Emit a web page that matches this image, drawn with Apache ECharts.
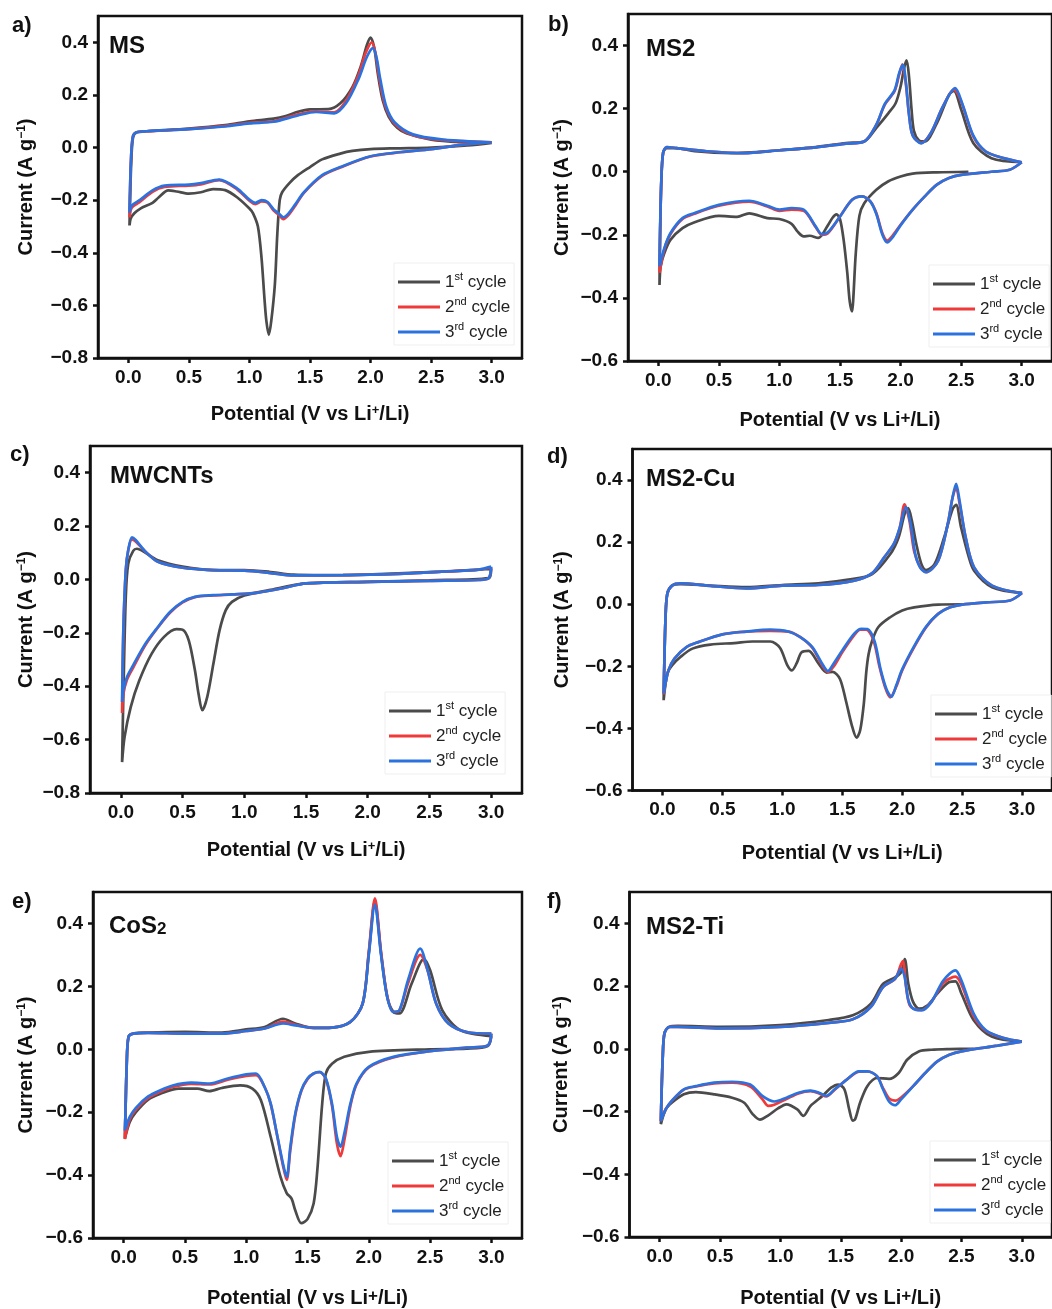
<!DOCTYPE html>
<html>
<head>
<meta charset="utf-8">
<script src="https://cdn.jsdelivr.net/npm/echarts@6/dist/echarts.min.js"></script>
<style>
  html, body { margin: 0; padding: 0; background: #ffffff; }
  #chart { width: 1052px; height: 1309px; }
</style>
</head>
<body>
<div id="chart"></div>
<script>
// Cyclic voltammograms, [potential (V vs Li+/Li), current (A g^-1)] in scan order:
// cathodic sweep down to 0.01 V, then anodic sweep back up to 3.0 V.

// ---- a) MS ----
const MS_1 = [[3.0,0.018],[2.8,0.008],[2.5,0.0],[2.2,-0.003],[2.0,-0.006],[1.85,-0.013],[1.75,-0.023],[1.6,-0.045],[1.5,-0.074],[1.4,-0.105],[1.33,-0.135],[1.27,-0.17],[1.25,-0.2],[1.23,-0.33],[1.21,-0.52],[1.18,-0.66],[1.16,-0.712],[1.14,-0.66],[1.125,-0.58],[1.1,-0.42],[1.07,-0.3],[1.03,-0.25],[1.0,-0.232],[0.9,-0.19],[0.8,-0.162],[0.7,-0.158],[0.6,-0.17],[0.5,-0.175],[0.4,-0.167],[0.33,-0.163],[0.25,-0.19],[0.2,-0.21],[0.1,-0.232],[0.05,-0.25],[0.02,-0.27],[0.01,-0.296],
  [0.015,-0.2],[0.025,-0.05],[0.04,0.04],[0.07,0.058],[0.15,0.062],[0.5,0.072],[0.8,0.085],[1.0,0.1],[1.2,0.11],[1.3,0.12],[1.4,0.136],[1.5,0.145],[1.65,0.146],[1.75,0.168],[1.85,0.23],[1.92,0.31],[1.97,0.39],[2.0,0.418],[2.03,0.38],[2.06,0.28],[2.1,0.18],[2.15,0.117],[2.22,0.075],[2.3,0.053],[2.5,0.03],[2.75,0.02],[2.95,0.018],[3.0,0.018]];
const MS_2 = [[3.0,0.02],[2.75,0.01],[2.5,-0.006],[2.25,-0.018],[2.0,-0.034],[1.75,-0.076],[1.6,-0.108],[1.45,-0.172],[1.38,-0.22],[1.32,-0.258],[1.28,-0.272],[1.24,-0.255],[1.2,-0.24],[1.15,-0.21],[1.1,-0.205],[1.05,-0.215],[1.0,-0.202],[0.9,-0.16],[0.75,-0.124],[0.6,-0.14],[0.5,-0.145],[0.3,-0.15],[0.2,-0.168],[0.1,-0.205],[0.03,-0.228],[0.01,-0.265],
  [0.015,-0.15],[0.025,-0.02],[0.04,0.045],[0.07,0.058],[0.15,0.062],[0.5,0.07],[0.8,0.082],[1.0,0.094],[1.2,0.1],[1.4,0.126],[1.55,0.138],[1.7,0.134],[1.8,0.18],[1.9,0.275],[1.96,0.36],[2.01,0.4],[2.04,0.36],[2.07,0.27],[2.12,0.16],[2.2,0.09],[2.35,0.047],[2.6,0.028],[2.9,0.022],[3.0,0.02]];
const MS_3 = [[3.0,0.02],[2.75,0.01],[2.5,-0.006],[2.25,-0.017],[2.0,-0.033],[1.75,-0.074],[1.6,-0.105],[1.45,-0.17],[1.38,-0.215],[1.32,-0.252],[1.28,-0.265],[1.24,-0.25],[1.2,-0.235],[1.15,-0.207],[1.1,-0.2],[1.05,-0.21],[1.0,-0.198],[0.9,-0.156],[0.75,-0.122],[0.6,-0.135],[0.5,-0.141],[0.3,-0.145],[0.2,-0.163],[0.1,-0.198],[0.03,-0.22],[0.01,-0.248],
  [0.015,-0.15],[0.025,-0.02],[0.04,0.045],[0.07,0.058],[0.15,0.062],[0.5,0.07],[0.8,0.08],[1.0,0.092],[1.2,0.098],[1.4,0.122],[1.55,0.135],[1.7,0.13],[1.8,0.17],[1.9,0.26],[1.97,0.345],[2.02,0.378],[2.05,0.34],[2.08,0.26],[2.13,0.155],[2.2,0.095],[2.35,0.05],[2.6,0.03],[2.9,0.022],[3.0,0.02]];

// ---- b) MS2 ----
const MS2_1 = [[2.56,0.0],[2.3,-0.002],[2.1,-0.006],[2.0,-0.015],[1.9,-0.03],[1.8,-0.057],[1.7,-0.1],[1.66,-0.14],[1.63,-0.26],[1.61,-0.4],[1.6,-0.443],[1.58,-0.41],[1.56,-0.32],[1.53,-0.216],[1.5,-0.15],[1.47,-0.135],[1.44,-0.145],[1.4,-0.17],[1.32,-0.21],[1.25,-0.203],[1.2,-0.205],[1.15,-0.19],[1.1,-0.165],[1.0,-0.15],[0.9,-0.147],[0.75,-0.132],[0.65,-0.143],[0.5,-0.14],[0.3,-0.16],[0.2,-0.179],[0.1,-0.216],[0.05,-0.258],[0.02,-0.3],[0.01,-0.359],
  [0.015,-0.2],[0.025,-0.03],[0.04,0.06],[0.07,0.075],[0.15,0.075],[0.3,0.065],[0.6,0.059],[1.0,0.068],[1.3,0.078],[1.55,0.091],[1.7,0.096],[1.8,0.139],[1.9,0.186],[1.96,0.218],[2.0,0.27],[2.03,0.33],[2.05,0.353],[2.07,0.3],[2.09,0.2],[2.11,0.13],[2.15,0.1],[2.2,0.096],[2.3,0.154],[2.4,0.244],[2.44,0.256],[2.5,0.197],[2.6,0.091],[2.75,0.043],[3.0,0.03]];
const MS2_2 = [[3.0,0.03],[2.9,0.006],[2.75,0.0],[2.5,-0.01],[2.4,-0.02],[2.3,-0.041],[2.2,-0.078],[2.1,-0.12],[2.0,-0.168],[1.93,-0.205],[1.89,-0.218],[1.85,-0.195],[1.8,-0.131],[1.75,-0.094],[1.68,-0.078],[1.6,-0.089],[1.5,-0.142],[1.4,-0.195],[1.35,-0.2],[1.3,-0.176],[1.2,-0.124],[1.1,-0.12],[1.0,-0.124],[0.9,-0.11],[0.75,-0.095],[0.5,-0.108],[0.3,-0.133],[0.2,-0.15],[0.1,-0.198],[0.05,-0.245],[0.01,-0.32],
  [0.015,-0.2],[0.025,-0.03],[0.04,0.06],[0.07,0.078],[0.15,0.075],[0.4,0.065],[0.7,0.059],[1.0,0.068],[1.3,0.077],[1.55,0.089],[1.7,0.096],[1.8,0.149],[1.87,0.213],[1.95,0.255],[1.99,0.31],[2.015,0.34],[2.04,0.29],[2.07,0.18],[2.1,0.115],[2.17,0.091],[2.25,0.123],[2.35,0.207],[2.44,0.26],[2.5,0.223],[2.6,0.112],[2.7,0.065],[2.85,0.043],[3.0,0.03]];
const MS2_3 = [[3.0,0.03],[2.9,0.006],[2.75,0.0],[2.5,-0.01],[2.4,-0.02],[2.3,-0.041],[2.2,-0.078],[2.1,-0.12],[2.0,-0.17],[1.93,-0.21],[1.89,-0.224],[1.85,-0.2],[1.8,-0.134],[1.75,-0.094],[1.68,-0.078],[1.6,-0.089],[1.5,-0.142],[1.4,-0.192],[1.35,-0.198],[1.3,-0.174],[1.2,-0.12],[1.1,-0.115],[1.0,-0.12],[0.9,-0.108],[0.75,-0.092],[0.5,-0.105],[0.3,-0.131],[0.2,-0.147],[0.1,-0.195],[0.05,-0.242],[0.01,-0.3],
  [0.015,-0.18],[0.025,-0.03],[0.04,0.06],[0.07,0.078],[0.15,0.075],[0.4,0.065],[0.7,0.059],[1.0,0.068],[1.3,0.077],[1.55,0.089],[1.7,0.096],[1.8,0.149],[1.87,0.215],[1.95,0.258],[1.99,0.315],[2.02,0.338],[2.045,0.28],[2.07,0.18],[2.1,0.115],[2.17,0.09],[2.25,0.123],[2.35,0.207],[2.45,0.265],[2.51,0.215],[2.6,0.115],[2.7,0.065],[2.85,0.043],[3.0,0.03]];

// ---- c) MWCNTs ----
const MWCNT_1 = [[3.0,0.04],[2.98,0.005],[2.5,-0.003],[2.0,-0.009],[1.5,-0.015],[1.2,-0.04],[1.0,-0.06],[0.9,-0.084],[0.85,-0.115],[0.8,-0.19],[0.75,-0.315],[0.7,-0.44],[0.66,-0.49],[0.63,-0.43],[0.6,-0.34],[0.55,-0.228],[0.5,-0.188],[0.45,-0.186],[0.35,-0.215],[0.25,-0.278],[0.15,-0.378],[0.08,-0.478],[0.03,-0.59],[0.01,-0.684],
  [0.02,-0.44],[0.04,-0.065],[0.06,0.06],[0.1,0.107],[0.13,0.115],[0.2,0.1],[0.3,0.072],[0.5,0.048],[0.75,0.035],[1.0,0.035],[1.2,0.029],[1.4,0.018],[1.8,0.016],[2.2,0.022],[2.6,0.029],[2.9,0.037],[3.0,0.04]];
const MWCNT_2 = [[3.0,0.045],[2.98,0.005],[2.9,-0.002],[2.5,-0.005],[2.0,-0.009],[1.5,-0.015],[1.3,-0.034],[1.1,-0.05],[0.9,-0.056],[0.75,-0.06],[0.6,-0.066],[0.5,-0.086],[0.4,-0.124],[0.3,-0.18],[0.2,-0.245],[0.1,-0.33],[0.05,-0.375],[0.02,-0.43],[0.01,-0.5],
  [0.02,-0.2],[0.04,0.035],[0.06,0.11],[0.09,0.15],[0.12,0.142],[0.2,0.104],[0.3,0.066],[0.5,0.044],[0.75,0.035],[1.0,0.033],[1.2,0.025],[1.4,0.015],[1.8,0.016],[2.2,0.02],[2.6,0.029],[2.9,0.037],[3.0,0.045]];
const MWCNT_3 = [[3.0,0.048],[2.98,0.005],[2.9,-0.002],[2.5,-0.005],[2.0,-0.009],[1.5,-0.015],[1.3,-0.034],[1.1,-0.05],[0.9,-0.056],[0.75,-0.059],[0.6,-0.065],[0.5,-0.084],[0.4,-0.121],[0.3,-0.178],[0.2,-0.24],[0.1,-0.321],[0.05,-0.365],[0.02,-0.415],[0.01,-0.459],
  [0.02,-0.19],[0.04,0.035],[0.06,0.11],[0.09,0.158],[0.12,0.148],[0.2,0.104],[0.3,0.066],[0.5,0.044],[0.75,0.035],[1.0,0.033],[1.2,0.025],[1.4,0.015],[1.8,0.016],[2.2,0.02],[2.6,0.029],[2.9,0.037],[3.0,0.048]];

// ---- d) MS2-Cu ----
const CU_1 = [[2.5,0.0],[2.3,-0.001],[2.1,-0.01],[2.0,-0.02],[1.9,-0.042],[1.8,-0.074],[1.75,-0.117],[1.72,-0.16],[1.7,-0.22],[1.68,-0.32],[1.65,-0.405],[1.62,-0.43],[1.58,-0.39],[1.53,-0.31],[1.48,-0.24],[1.42,-0.218],[1.37,-0.22],[1.3,-0.19],[1.22,-0.15],[1.16,-0.155],[1.12,-0.19],[1.08,-0.213],[1.04,-0.195],[0.98,-0.14],[0.9,-0.12],[0.75,-0.12],[0.6,-0.125],[0.4,-0.13],[0.25,-0.143],[0.15,-0.17],[0.08,-0.197],[0.04,-0.224],[0.01,-0.309],
  [0.015,-0.2],[0.025,-0.05],[0.04,0.033],[0.08,0.06],[0.15,0.065],[0.4,0.06],[0.7,0.055],[1.0,0.062],[1.3,0.067],[1.55,0.079],[1.75,0.097],[1.9,0.161],[1.97,0.215],[2.02,0.29],[2.05,0.31],[2.08,0.27],[2.12,0.19],[2.16,0.13],[2.2,0.11],[2.27,0.129],[2.35,0.215],[2.42,0.306],[2.45,0.32],[2.49,0.25],[2.55,0.16],[2.6,0.108],[2.75,0.055],[3.0,0.036]];
const CU_2 = [[3.0,0.036],[2.9,0.012],[2.7,0.006],[2.5,-0.001],[2.4,-0.01],[2.3,-0.031],[2.2,-0.074],[2.1,-0.138],[2.0,-0.213],[1.95,-0.266],[1.9,-0.3],[1.86,-0.27],[1.81,-0.2],[1.76,-0.115],[1.7,-0.082],[1.65,-0.082],[1.6,-0.1],[1.5,-0.155],[1.43,-0.2],[1.38,-0.218],[1.33,-0.195],[1.25,-0.14],[1.15,-0.106],[1.05,-0.088],[0.9,-0.086],[0.7,-0.088],[0.5,-0.097],[0.3,-0.122],[0.2,-0.138],[0.1,-0.175],[0.05,-0.213],[0.01,-0.29],
  [0.015,-0.2],[0.025,-0.05],[0.04,0.033],[0.08,0.06],[0.15,0.067],[0.4,0.059],[0.7,0.051],[1.0,0.06],[1.3,0.062],[1.6,0.076],[1.75,0.1],[1.85,0.151],[1.93,0.194],[1.98,0.247],[2.02,0.322],[2.06,0.27],[2.1,0.17],[2.15,0.12],[2.2,0.103],[2.3,0.14],[2.38,0.258],[2.42,0.343],[2.45,0.375],[2.48,0.322],[2.53,0.215],[2.6,0.119],[2.75,0.06],[3.0,0.036]];
const CU_3 = [[3.0,0.036],[2.9,0.012],[2.7,0.006],[2.5,-0.001],[2.4,-0.01],[2.3,-0.031],[2.2,-0.072],[2.1,-0.135],[2.0,-0.21],[1.95,-0.262],[1.91,-0.298],[1.87,-0.275],[1.82,-0.21],[1.77,-0.12],[1.71,-0.08],[1.66,-0.079],[1.6,-0.095],[1.5,-0.149],[1.43,-0.19],[1.38,-0.215],[1.33,-0.19],[1.25,-0.138],[1.15,-0.106],[1.05,-0.088],[0.9,-0.082],[0.7,-0.088],[0.5,-0.097],[0.3,-0.122],[0.2,-0.138],[0.1,-0.175],[0.05,-0.213],[0.01,-0.288],
  [0.015,-0.2],[0.025,-0.05],[0.04,0.033],[0.08,0.06],[0.15,0.067],[0.4,0.059],[0.7,0.051],[1.0,0.06],[1.3,0.062],[1.6,0.076],[1.75,0.1],[1.85,0.151],[1.93,0.194],[1.98,0.247],[2.03,0.313],[2.07,0.26],[2.11,0.16],[2.15,0.118],[2.2,0.103],[2.3,0.14],[2.38,0.258],[2.42,0.343],[2.45,0.388],[2.48,0.33],[2.53,0.215],[2.6,0.119],[2.75,0.06],[3.0,0.036]];

// ---- e) CoS2 ----
const COS2_1 = [[3.0,0.042],[2.97,0.01],[2.8,0.002],[2.5,0.0],[2.0,-0.008],[1.8,-0.024],[1.7,-0.046],[1.65,-0.077],[1.62,-0.173],[1.58,-0.385],[1.55,-0.49],[1.5,-0.54],[1.45,-0.553],[1.4,-0.512],[1.37,-0.475],[1.33,-0.457],[1.28,-0.406],[1.2,-0.279],[1.12,-0.162],[1.05,-0.125],[0.95,-0.115],[0.8,-0.123],[0.7,-0.133],[0.6,-0.125],[0.45,-0.125],[0.3,-0.141],[0.2,-0.16],[0.1,-0.2],[0.05,-0.231],[0.01,-0.284],
  [0.015,-0.2],[0.025,-0.05],[0.04,0.04],[0.08,0.05],[0.2,0.053],[0.5,0.055],[0.8,0.053],[1.0,0.063],[1.15,0.071],[1.3,0.097],[1.4,0.082],[1.55,0.068],[1.7,0.069],[1.85,0.087],[1.95,0.145],[2.0,0.305],[2.05,0.47],[2.1,0.305],[2.15,0.167],[2.2,0.119],[2.25,0.114],[2.35,0.209],[2.45,0.287],[2.5,0.252],[2.6,0.124],[2.75,0.06],[3.0,0.042]];
const COS2_2 = [[3.0,0.05],[2.97,0.012],[2.8,0.005],[2.5,-0.006],[2.2,-0.026],[2.0,-0.058],[1.9,-0.112],[1.85,-0.18],[1.8,-0.29],[1.77,-0.34],[1.74,-0.3],[1.7,-0.18],[1.65,-0.095],[1.6,-0.073],[1.55,-0.077],[1.5,-0.095],[1.45,-0.132],[1.4,-0.21],[1.36,-0.32],[1.33,-0.415],[1.3,-0.37],[1.25,-0.27],[1.2,-0.175],[1.15,-0.12],[1.08,-0.082],[1.0,-0.085],[0.85,-0.097],[0.7,-0.112],[0.55,-0.11],[0.4,-0.12],[0.3,-0.135],[0.2,-0.155],[0.1,-0.192],[0.05,-0.222],[0.01,-0.285],
  [0.015,-0.2],[0.025,-0.05],[0.04,0.04],[0.08,0.05],[0.2,0.052],[0.5,0.05],[0.8,0.05],[1.0,0.058],[1.15,0.066],[1.3,0.088],[1.4,0.078],[1.55,0.068],[1.7,0.069],[1.85,0.087],[1.95,0.145],[2.0,0.31],[2.05,0.48],[2.1,0.31],[2.15,0.17],[2.2,0.119],[2.25,0.124],[2.32,0.21],[2.42,0.3],[2.48,0.25],[2.55,0.145],[2.65,0.082],[2.8,0.055],[3.0,0.05]];
const COS2_3 = [[3.0,0.05],[2.97,0.012],[2.8,0.005],[2.5,-0.006],[2.2,-0.024],[2.0,-0.056],[1.9,-0.109],[1.85,-0.173],[1.8,-0.268],[1.77,-0.31],[1.74,-0.279],[1.7,-0.173],[1.65,-0.093],[1.6,-0.072],[1.55,-0.077],[1.5,-0.093],[1.45,-0.13],[1.4,-0.205],[1.36,-0.31],[1.33,-0.406],[1.3,-0.364],[1.25,-0.268],[1.2,-0.173],[1.15,-0.12],[1.08,-0.077],[1.0,-0.08],[0.85,-0.093],[0.7,-0.109],[0.55,-0.106],[0.4,-0.115],[0.3,-0.13],[0.2,-0.15],[0.1,-0.186],[0.05,-0.215],[0.01,-0.258],
  [0.015,-0.2],[0.025,-0.05],[0.04,0.04],[0.08,0.05],[0.2,0.052],[0.5,0.05],[0.8,0.05],[1.0,0.058],[1.15,0.066],[1.3,0.082],[1.4,0.076],[1.55,0.068],[1.7,0.069],[1.85,0.087],[1.95,0.145],[2.0,0.3],[2.05,0.46],[2.1,0.3],[2.15,0.167],[2.2,0.119],[2.25,0.124],[2.32,0.22],[2.42,0.32],[2.48,0.252],[2.55,0.145],[2.65,0.082],[2.8,0.055],[3.0,0.05]];

// ---- f) MS2-Ti ----
const TI_1 = [[2.6,0.0],[2.4,-0.001],[2.25,-0.003],[2.15,-0.008],[2.05,-0.035],[1.98,-0.077],[1.9,-0.096],[1.8,-0.093],[1.72,-0.119],[1.66,-0.172],[1.62,-0.224],[1.6,-0.229],[1.57,-0.193],[1.53,-0.129],[1.48,-0.114],[1.42,-0.124],[1.35,-0.15],[1.25,-0.182],[1.19,-0.214],[1.14,-0.193],[1.05,-0.177],[0.98,-0.19],[0.9,-0.212],[0.83,-0.226],[0.77,-0.208],[0.7,-0.172],[0.6,-0.156],[0.45,-0.145],[0.3,-0.138],[0.2,-0.145],[0.1,-0.172],[0.05,-0.193],[0.01,-0.24],
  [0.015,-0.15],[0.025,-0.03],[0.04,0.05],[0.08,0.07],[0.15,0.073],[0.5,0.07],[1.0,0.076],[1.4,0.092],[1.6,0.107],[1.75,0.144],[1.85,0.207],[1.95,0.228],[2.0,0.244],[2.03,0.286],[2.06,0.207],[2.1,0.149],[2.15,0.128],[2.22,0.139],[2.3,0.176],[2.4,0.213],[2.45,0.215],[2.5,0.176],[2.6,0.092],[2.75,0.039],[3.0,0.023]];
const TI_2 = [[3.0,0.023],[2.8,0.01],[2.5,-0.008],[2.4,-0.019],[2.3,-0.04],[2.2,-0.077],[2.1,-0.119],[2.0,-0.155],[1.95,-0.165],[1.9,-0.158],[1.85,-0.125],[1.8,-0.087],[1.72,-0.072],[1.65,-0.073],[1.55,-0.098],[1.45,-0.13],[1.38,-0.152],[1.32,-0.142],[1.25,-0.135],[1.15,-0.142],[1.05,-0.16],[0.95,-0.178],[0.9,-0.182],[0.85,-0.16],[0.75,-0.12],[0.6,-0.108],[0.45,-0.11],[0.3,-0.12],[0.2,-0.13],[0.1,-0.166],[0.05,-0.193],[0.01,-0.23],
  [0.015,-0.15],[0.025,-0.03],[0.04,0.05],[0.08,0.07],[0.15,0.07],[0.5,0.065],[1.0,0.07],[1.4,0.083],[1.6,0.094],[1.75,0.134],[1.85,0.197],[1.95,0.223],[2.0,0.27],[2.015,0.28],[2.04,0.2],[2.07,0.14],[2.12,0.125],[2.17,0.123],[2.25,0.149],[2.35,0.21],[2.45,0.23],[2.5,0.205],[2.6,0.105],[2.7,0.058],[2.85,0.034],[3.0,0.023]];
const TI_3 = [[3.0,0.023],[2.8,0.01],[2.5,-0.008],[2.4,-0.019],[2.3,-0.04],[2.2,-0.077],[2.1,-0.119],[2.0,-0.161],[1.95,-0.18],[1.9,-0.168],[1.85,-0.129],[1.8,-0.087],[1.72,-0.072],[1.65,-0.072],[1.55,-0.098],[1.45,-0.129],[1.38,-0.15],[1.32,-0.14],[1.25,-0.133],[1.15,-0.14],[1.05,-0.156],[0.95,-0.168],[0.85,-0.15],[0.75,-0.114],[0.6,-0.105],[0.45,-0.108],[0.3,-0.119],[0.2,-0.129],[0.1,-0.166],[0.05,-0.193],[0.01,-0.23],
  [0.015,-0.15],[0.025,-0.03],[0.04,0.05],[0.08,0.07],[0.15,0.07],[0.5,0.065],[1.0,0.07],[1.4,0.083],[1.6,0.094],[1.75,0.134],[1.85,0.197],[1.95,0.223],[2.0,0.255],[2.03,0.228],[2.06,0.155],[2.1,0.128],[2.17,0.123],[2.25,0.149],[2.35,0.218],[2.45,0.25],[2.5,0.218],[2.6,0.113],[2.7,0.06],[2.85,0.034],[3.0,0.023]];

// ---- axes and legend text ----
const CYCLES = ['1st cycle', '2nd cycle', '3rd cycle'];
const X_TICKS = [0, 0.5, 1.0, 1.5, 2.0, 2.5, 3.0];
const Y_TICKS_LOW = [-0.8, -0.6, -0.4, -0.2, 0, 0.2, 0.4];
const Y_TICKS_HIGH = [-0.6, -0.4, -0.2, 0, 0.2, 0.4];
const X_NAME = 'Potential (V vs Li{sup|+}/Li)';
const Y_NAME = 'Current (A g{sup|\u22121})';

const FONT = '"Liberation Sans", Arial, Helvetica, sans-serif';
const INK = '#111111';
const COLORS = ['#4b4b4b', '#f03a3a', '#2c72df'];

// plus: [font size, line height] of the raised "+" in the potential axis title
const PANELS = [
  { tag: 'a)', name: 'MS',       curves: [MS_1, MS_2, MS_3],          yMin: -0.8, yTicks: Y_TICKS_LOW,
    grid: { left: 98,    top: 16,  width: 424, height: 342 },   tagAt: [12, 15],   nameAt: [109, 34],
    legendAt: [394, 263],  yGap: 62, xGap: 46, plus: [13, 13] },
  { tag: 'b)', name: 'MS2',      curves: [MS2_1, MS2_2, MS2_3],       yMin: -0.6, yTicks: Y_TICKS_HIGH,
    grid: { left: 628,   top: 14,  width: 432, height: 347 },   tagAt: [548, 14],  nameAt: [646, 37],
    legendAt: [929, 265],  yGap: 56, xGap: 49, plus: [17, 7] },
  { tag: 'c)', name: 'MWCNTs',   curves: [MWCNT_1, MWCNT_2, MWCNT_3], yMin: -0.8, yTicks: Y_TICKS_LOW,
    grid: { left: 90,    top: 446, width: 432, height: 347 },   tagAt: [10, 444],  nameAt: [110, 464],
    legendAt: [385, 692],  yGap: 54, xGap: 47, plus: [13, 13] },
  { tag: 'd)', name: 'MS2-Cu',   curves: [CU_1, CU_2, CU_3],          yMin: -0.6, yTicks: Y_TICKS_HIGH,
    grid: { left: 632.5, top: 449, width: 427, height: 341.5 }, tagAt: [547, 446], nameAt: [646, 467],
    legendAt: [931, 695],  yGap: 60, xGap: 53, plus: [17, 7] },
  { tag: 'e)', name: 'CoS{sub|2}', curves: [COS2_1, COS2_2, COS2_3],  yMin: -0.6, yTicks: Y_TICKS_HIGH,
    grid: { left: 93,    top: 892, width: 429, height: 346 },   tagAt: [12, 891],  nameAt: [109, 914],
    legendAt: [388, 1142], yGap: 57, xGap: 50, plus: [17, 7] },
  { tag: 'f)', name: 'MS2-Ti',   curves: [TI_1, TI_2, TI_3],          yMin: -0.6, yTicks: Y_TICKS_HIGH,
    grid: { left: 629.5, top: 892, width: 430, height: 345 },   tagAt: [547, 891], nameAt: [646, 915],
    legendAt: [930, 1141], yGap: 58, xGap: 51, plus: [17, 7] }
];

const supStyle = { fontFamily: FONT, fontSize: 11, color: INK, verticalAlign: 'top', lineHeight: 12 };

const fmtY = v => (v < -1e-9 ? '\u2212' + (-v).toFixed(1) : Math.abs(v).toFixed(1));

const option = {
  backgroundColor: '#ffffff',
  animation: false,
  title: PANELS.flatMap(p => [
    { text: p.tag, left: p.tagAt[0], top: p.tagAt[1], padding: 0,
      textStyle: { fontFamily: FONT, fontWeight: 'bold', fontSize: 22, color: INK } },
    { text: p.name, left: p.nameAt[0], top: p.nameAt[1], padding: 0,
      textStyle: { fontFamily: FONT, fontWeight: 'bold', fontSize: 24, color: INK,
        rich: { sub: { fontFamily: FONT, fontSize: 17, color: INK, verticalAlign: 'bottom', lineHeight: 22 } } } }
  ]),
  grid: PANELS.map(p => Object.assign({ show: true, borderColor: INK, borderWidth: 2.5,
    backgroundColor: 'transparent', containLabel: false }, p.grid)),
  xAxis: PANELS.map((p, i) => ({
    type: 'value', gridIndex: i, min: -0.25, max: 3.25,
    axisLine: { show: true, onZero: false, lineStyle: { color: INK, width: 2.5 } },
    axisTick: { show: true, length: 5, customValues: X_TICKS, lineStyle: { color: INK, width: 2.5 } },
    axisLabel: { customValues: X_TICKS, formatter: v => v.toFixed(1), margin: 10,
      fontFamily: FONT, fontWeight: 'bold', fontSize: 19, color: INK },
    splitLine: { show: false },
    name: X_NAME, nameLocation: 'middle', nameGap: p.xGap,
    nameTextStyle: { fontFamily: FONT, fontWeight: 'bold', fontSize: 20, color: INK,
      rich: { sup: Object.assign({}, supStyle, { fontWeight: 'bold', fontSize: p.plus[0], lineHeight: p.plus[1] }) } }
  })),
  yAxis: PANELS.map((p, i) => ({
    type: 'value', gridIndex: i, min: p.yMin, max: 0.5,
    axisLine: { show: true, onZero: false, lineStyle: { color: INK, width: 2.5 } },
    axisTick: { show: true, length: 5, customValues: p.yTicks, lineStyle: { color: INK, width: 2.5 } },
    axisLabel: { customValues: p.yTicks, formatter: fmtY, margin: 10,
      fontFamily: FONT, fontWeight: 'bold', fontSize: 19, color: INK },
    splitLine: { show: false },
    name: Y_NAME, nameLocation: 'middle', nameGap: p.yGap, nameRotate: 90,
    nameTextStyle: { fontFamily: FONT, fontWeight: 'bold', fontSize: 20, color: INK,
      rich: { sup: Object.assign({}, supStyle, { fontWeight: 'bold', fontSize: 12, lineHeight: 12 }) } }
  })),
  legend: PANELS.map(p => ({
    data: CYCLES, orient: 'vertical', left: p.legendAt[0], top: p.legendAt[1],
    icon: 'rect', itemWidth: 42, itemHeight: 3, itemGap: 3, padding: [8, 4, 2, 4],
    borderColor: '#efefef', borderWidth: 1, backgroundColor: '#ffffff',
    selectedMode: false,
    formatter: n => n.replace(/^(\d)(st|nd|rd)/, '$1{sup|$2}'),
    textStyle: { fontFamily: FONT, fontSize: 17, color: '#222222', lineHeight: 22,
      rich: { sup: supStyle } }
  })),
  series: PANELS.flatMap((p, i) => p.curves.map((data, k) => ({
    type: 'line', name: CYCLES[k], xAxisIndex: i, yAxisIndex: i,
    data: data, symbol: 'none', smooth: 0.3, z: 2 + k,
    lineStyle: { color: COLORS[k], width: 2.7 }, itemStyle: { color: COLORS[k] }
  })))
};

const chart = echarts.init(document.getElementById('chart'), null, { renderer: 'canvas' });
chart.setOption(option);
</script>
</body>
</html>
